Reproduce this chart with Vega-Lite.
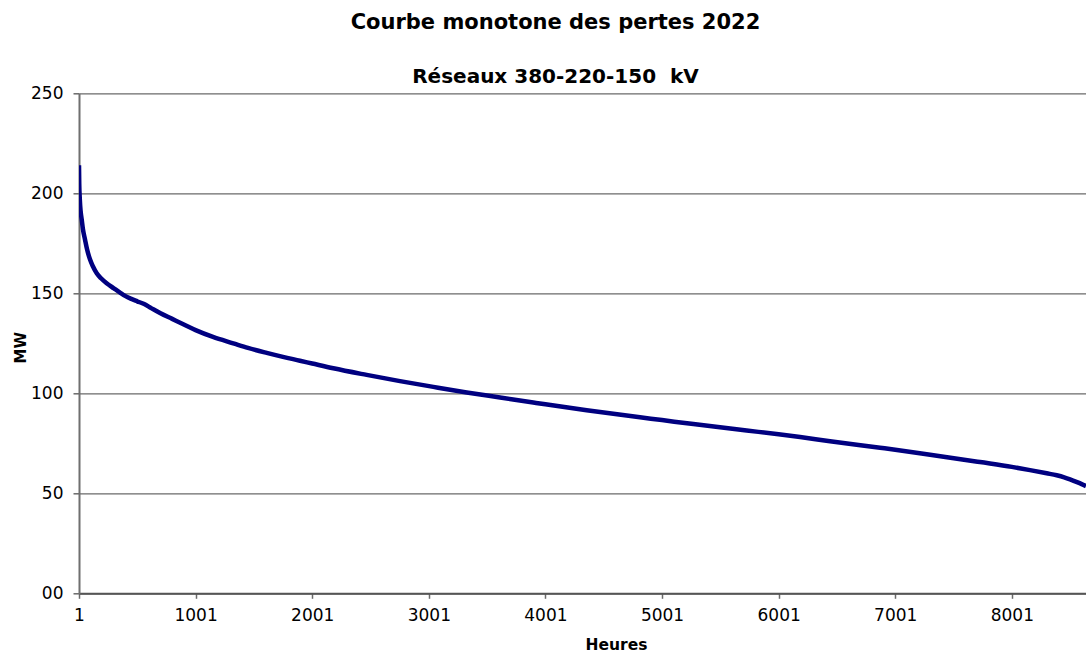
{
  "$schema": "https://vega.github.io/schema/vega-lite/v6.json",
  "width": 1007,
  "height": 500,
  "autosize": {"type": "none"},
  "padding": {"left": 79, "top": 93.3, "right": 0, "bottom": 62.7},
  "background": "white",
  "title": {
    "text": "Courbe monotone des pertes 2022",
    "subtitle": "Réseaux 380-220-150\u00a0 kV",
    "anchor": "middle",
    "frame": "group",
    "dx": -27,
    "font": "DejaVu Sans",
    "fontSize": 21,
    "fontWeight": "bold",
    "color": "black",
    "subtitleFont": "DejaVu Sans",
    "subtitleFontSize": 20,
    "subtitleFontWeight": "bold",
    "subtitleColor": "black",
    "subtitlePadding": 34,
    "offset": -3
  },
  "data": {
    "values": [
      {"heure": 1, "MW": 214},
      {"heure": 3, "MW": 205},
      {"heure": 8, "MW": 197},
      {"heure": 15, "MW": 191},
      {"heure": 24, "MW": 187},
      {"heure": 35, "MW": 182},
      {"heure": 52, "MW": 177},
      {"heure": 70, "MW": 172},
      {"heure": 95, "MW": 167},
      {"heure": 120, "MW": 163.5},
      {"heure": 153, "MW": 160},
      {"heure": 190, "MW": 157.5},
      {"heure": 238, "MW": 155},
      {"heure": 300, "MW": 152.5},
      {"heure": 350, "MW": 150.5},
      {"heure": 400, "MW": 148.6},
      {"heure": 450, "MW": 147.2},
      {"heure": 500, "MW": 146},
      {"heure": 560, "MW": 144.6},
      {"heure": 620, "MW": 142.6},
      {"heure": 700, "MW": 140},
      {"heure": 800, "MW": 137.2},
      {"heure": 900, "MW": 134.4},
      {"heure": 1001, "MW": 131.6},
      {"heure": 1150, "MW": 128.2},
      {"heure": 1324, "MW": 125},
      {"heure": 1450, "MW": 122.7},
      {"heure": 1611, "MW": 120.2},
      {"heure": 1750, "MW": 118.2},
      {"heure": 1896, "MW": 116.3},
      {"heure": 2001, "MW": 114.9},
      {"heure": 2182, "MW": 112.5},
      {"heure": 2468, "MW": 109.2},
      {"heure": 2754, "MW": 106.1},
      {"heure": 3040, "MW": 103.2},
      {"heure": 3326, "MW": 100.4},
      {"heure": 3612, "MW": 97.9},
      {"heure": 3897, "MW": 95.4},
      {"heure": 4001, "MW": 94.5},
      {"heure": 4355, "MW": 91.5},
      {"heure": 4812, "MW": 88},
      {"heure": 5001, "MW": 86.6},
      {"heure": 5270, "MW": 84.6},
      {"heure": 5727, "MW": 81.4},
      {"heure": 6001, "MW": 79.5},
      {"heure": 6185, "MW": 78.1},
      {"heure": 6442, "MW": 76},
      {"heure": 6871, "MW": 72.8},
      {"heure": 7001, "MW": 71.8},
      {"heure": 7300, "MW": 69.3},
      {"heure": 7728, "MW": 65.6},
      {"heure": 8001, "MW": 63.2},
      {"heure": 8157, "MW": 61.6},
      {"heure": 8300, "MW": 60},
      {"heure": 8386, "MW": 59},
      {"heure": 8450, "MW": 58},
      {"heure": 8500, "MW": 57},
      {"heure": 8560, "MW": 55.6},
      {"heure": 8600, "MW": 54.6},
      {"heure": 8637, "MW": 53.6}
    ]
  },
  "mark": {"type": "line", "color": "#000080", "strokeWidth": 4.5, "interpolate": "monotone", "clip": true, "strokeCap": "butt"},
  "encoding": {
    "x": {
      "field": "heure",
      "type": "quantitative",
      "scale": {"domain": [1, 8637], "nice": false, "zero": false},
      "axis": {
        "values": [1, 1001, 2001, 3001, 4001, 5001, 6001, 7001, 8001],
        "format": "d",
        "grid": false,
        "title": "Heures",
        "titleFont": "DejaVu Sans",
        "titleFontSize": 15.5,
        "titleFontWeight": "bold",
        "titleColor": "black",
        "titleX": 537,
        "titleY": 56,
        "titleBaseline": "alphabetic",
        "titleAlign": "center",
        "labelFont": "DejaVu Sans",
        "labelFontSize": 17,
        "labelColor": "black",
        "labelPadding": 9,
        "labelFlush": false,
        "labelOverlap": false,
        "tickSize": 5,
        "tickColor": "#6a6a6a",
        "tickWidth": 1.5,
        "domainColor": "#555555",
        "domainWidth": 2
      }
    },
    "y": {
      "field": "MW",
      "type": "quantitative",
      "scale": {"domain": [0, 250], "nice": false},
      "axis": {
        "values": [0, 50, 100, 150, 200, 250],
        "labelExpr": "datum.value == 0 ? '00' : datum.label",
        "grid": true,
        "gridColor": "#6a6a6a",
        "gridWidth": 1.3,
        "title": "MW",
        "titleFont": "DejaVu Sans",
        "titleFontSize": 15,
        "titleFontWeight": "bold",
        "titleColor": "black",
        "titleAngle": 270,
        "titleX": -54,
        "titleY": 254,
        "titleBaseline": "alphabetic",
        "titleAlign": "center",
        "labelFont": "DejaVu Sans",
        "labelFontSize": 17,
        "labelColor": "black",
        "labelPadding": 10,
        "labelFlush": false,
        "labelOverlap": false,
        "tickSize": 6,
        "tickColor": "#6a6a6a",
        "tickWidth": 1.5,
        "domainColor": "#6f6f6f",
        "domainWidth": 2
      }
    }
  },
  "config": {"view": {"stroke": null}}
}
